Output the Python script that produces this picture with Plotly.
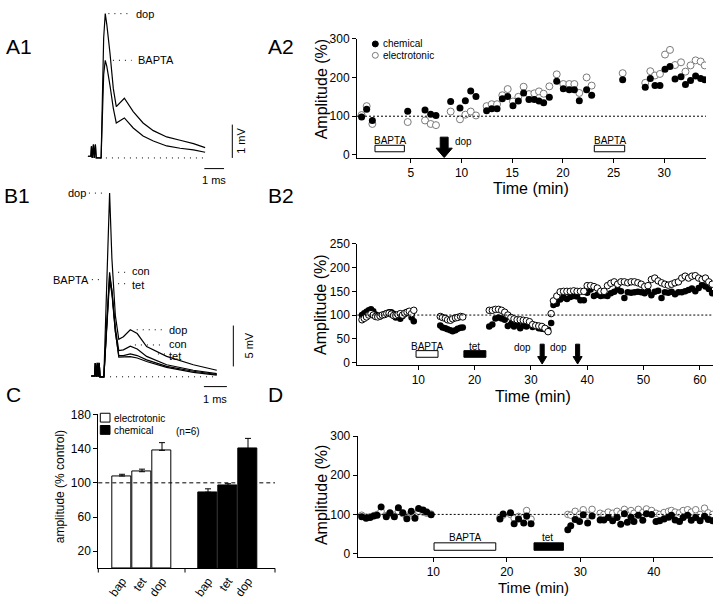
import plotly.graph_objects as go

W, H = 720, 604

# ---------------- A1 : averaged traces (ms, mV) ----------------
a1_time = [-0.7, -0.55, -0.52, -0.48, -0.42, -0.38, -0.32, -0.28, -0.03, 0.1, 0.18, 0.26, 0.42, 0.59,
           0.74, 0.93, 1.15, 1.6, 2.1, 2.62, 3.3, 3.98, 4.66, 5.25]
a1_dop = [0.05, 0.05, 0.35, 0.0, 0.4, 0.0, 0.4, 0.0, 0.0, 3.6, 4.33, 4.0, 3.15, 2.08,
          1.54, 1.67, 1.79, 1.39, 1.05, 0.82, 0.63, 0.53, 0.43, 0.31]
a1_bapta = [0.05, 0.05, 0.35, 0.0, 0.4, 0.0, 0.4, 0.0, 0.0, 2.5, 2.93, 2.75, 2.18, 1.49,
            1.05, 1.12, 1.2, 0.9, 0.66, 0.51, 0.36, 0.29, 0.24, 0.17]

# ---------------- B1 : averaged traces (ms, mV) ----------------
b1_time = [-0.6, -0.45, -0.42, -0.38, -0.33, -0.3, -0.25, -0.22, -0.05, 0.1, 0.2, 0.3, 0.45, 0.6,
           0.8, 1.1, 1.4, 1.81, 2.68, 3.84, 4.86]
b1_dop = [0.1, 0.1, 1.7, 0.0, 1.7, 0.0, 1.7, 0.0, 0.0, 12.0, 22.5, 14.5, 7.5, 4.6,
          4.9, 5.76, 5.3, 3.7, 2.5, 1.48, 0.8]
b1_con = [0.1, 0.1, 1.7, 0.0, 1.7, 0.0, 1.7, 0.0, 0.0, 8.0, 12.8, 10.5, 6.0, 3.2,
          3.3, 3.76, 3.4, 2.5, 1.48, 0.8, 0.4]
b1_tet = [0.1, 0.1, 1.7, 0.0, 1.7, 0.0, 1.7, 0.0, 0.0, 7.5, 11.8, 10.2, 5.5, 2.6,
          2.6, 2.8, 2.6, 2.08, 1.27, 0.68, 0.28]
b1_bapta = [0.1, 0.1, 1.7, 0.0, 1.7, 0.0, 1.7, 0.0, 0.0, 8.0, 12.4, 10.6, 5.6, 2.4,
            2.4, 2.47, 2.3, 1.87, 1.15, 0.55, 0.2]

# ---------------- A2 : amplitude vs time ----------------
a2_time = [0.13, 0.63, 1.19, 4.68, 6.39, 6.95, 7.47, 8.92, 9.84, 10.37, 10.9, 11.42, 12.47, 12.97,
           13.5, 14.02, 14.55, 15.07, 15.6, 16.12, 16.65, 17.18, 17.64, 18.1, 18.66, 19.39, 20.04,
           20.63, 21.13, 21.62, 22.34, 22.84, 25.9, 28.13, 28.63, 29.09, 29.58, 30.08, 30.57, 31.07,
           31.66, 32.1, 32.6, 33.1, 33.6, 34.0]
a2_chemical = [98, 118, 89, 113, 116, 105, 102, 138, 121, 140, 165, 151, 114, 119,
               119, 145, 151, 127, 139, 160, 143, 143, 139, 135, 149, 190, 171,
               168, 168, 140, 168, 154, 194, 175, 197, 179, 179, 221, 228, 196,
               202, 182, 192, 204, 197, 194]
a2_electrotonic = [103, 126, 80, 85, 89, 80, 77, 112, 92, 104, 112, 102, 126, 131,
                   131, 154, 170, 138, 150, 176, 157, 159, 164, 158, 177, 208, 183,
                   183, 183, 160, 200, 179, 211, 186, 216, 205, 209, 259, 271, 232,
                   239, 215, 231, 244, 241, 231]

# ---------------- B2 ----------------
b2_time_ctrl = [0.0, 0.4, 0.8, 1.2, 1.6, 2.0, 2.4, 2.8, 3.2, 3.6, 4.0, 4.4, 4.8, 5.2, 5.6, 6.0,
                6.4, 6.8, 7.2, 7.6, 8.0, 8.4, 8.8, 9.2]
b2_chem_ctrl = [100, 104, 107, 110, 112, 108, 101, 99, 97, 100, 102, 104, 106, 106, 103, 95,
                97, 92, 98, 102, 105, 107, 95, 87]
b2_elec_ctrl = [90, 93, 96, 100, 103, 100, 97, 96, 98, 100, 101, 103, 104, 102, 99, 99,
                101, 103, 100, 104, 106, 108, 103, 110]
b2_time_bapta = [13.9, 14.3, 14.8, 15.2, 15.7, 16.1, 16.6, 17.0, 17.5, 17.9]
b2_chem_bapta = [78, 74, 72, 70, 68, 66, 68, 71, 73, 74]
b2_elec_bapta = [97, 95, 93, 90, 89, 92, 94, 95, 97, 96]
b2_time_tet = [22.6, 23.15, 23.7, 24.25, 24.8, 25.35, 25.9, 26.45, 27.0, 27.55, 28.1, 28.65,
               29.2, 29.75, 30.3, 30.85, 31.4, 31.95, 32.5, 33.05, 33.6]
b2_chem_tet = [76, 80, 93, 95, 93, 90, 77, 81, 76, 80, 72, 78, 76, 80, 75, 77, 72, 71, 70, 69, 83]
b2_elec_tet = [110, 110, 112, 112, 110, 106, 100, 95, 92, 90, 90, 89, 88, 86, 80, 78, 77, 76,
               72, 65, 103]
b2_time_dop = [34.0, 34.6, 35.2, 35.8, 36.4, 37.0, 37.6, 38.2, 38.8, 39.4, 40.0, 40.6, 41.2, 41.8,
               42.4, 43.0, 43.6, 44.2, 44.8, 45.4, 46.0, 46.6, 47.2, 47.8, 48.4, 49.0, 49.6, 50.2,
               50.8, 51.4, 52.0, 52.6, 53.2, 53.8, 54.4, 55.0, 55.6, 56.2, 56.8, 57.4, 58.0, 58.6,
               59.2, 59.8, 60.4, 61.0, 61.6, 62.2]
b2_chem_dop = [121, 124, 133, 137, 134, 138, 140, 139, 131, 131, 147, 154, 140, 143,
               140, 141, 140, 146, 149, 154, 150, 136, 148, 147, 148, 149, 148, 146,
               150, 142, 149, 151, 136, 148, 147, 149, 144, 148, 148, 150, 153, 156,
               150, 157, 164, 160, 155, 146]
b2_elec_dop = [130, 140, 149, 150, 150, 150, 151, 150, 150, 150, 162, 162, 160, 157,
               150, 150, 162, 167, 170, 165, 170, 170, 168, 170, 170, 168, 165, 160,
               162, 175, 178, 172, 168, 165, 163, 165, 168, 170, 178, 182, 178, 182,
               183, 178, 175, 178, 170, 165]

# ---------------- D ----------------
d_time_ctrl = [0.26, 0.86, 1.4, 1.9, 2.35, 2.9, 3.6, 4.1, 4.7, 5.25, 5.85, 6.4, 7.0, 7.5, 8.0,
               8.6, 9.1, 9.7]
d_chem_ctrl = [94, 90, 92, 96, 98, 119, 94, 104, 94, 117, 104, 89, 108, 90, 115, 111, 106, 99]
d_elec_ctrl = [98, 93, 94, 97, 100, 108, 97, 102, 98, 108, 102, 95, 104, 96, 108, 106, 103, 101]
d_time_bapta = [19.07, 19.5, 20.5, 21.0, 21.6, 22.3, 22.7, 23.3]
d_chem_bapta = [88, 101, 104, 76, 88, 78, 96, 76]
d_elec_bapta = [92, 98, 100, 90, 95, 92, 110, 88]
d_time_tet = [28.3, 28.7, 29.3, 29.9, 30.4, 31.0, 31.6, 32.7, 33.2, 33.8, 34.4, 35.0, 35.5, 36.0,
              36.4, 36.9, 37.3, 37.9, 38.5, 39.0, 39.7, 40.3, 40.8, 41.4, 42.0, 42.4, 42.9, 43.5,
              44.0, 44.6, 45.1, 45.7, 46.3, 46.9, 47.4, 48.0]
d_chem_tet = [61, 71, 87, 82, 99, 78, 96, 86, 86, 92, 84, 92, 75, 102, 80, 93, 82, 98, 85, 102,
              100, 82, 84, 88, 93, 98, 86, 82, 92, 98, 85, 92, 84, 95, 87, 84]
d_elec_tet = [100, 98, 108, 100, 112, 98, 113, 103, 100, 106, 103, 108, 102, 113, 104, 110, 103,
              113, 105, 114, 110, 103, 100, 105, 108, 110, 106, 104, 110, 112, 106, 112, 100,
              116, 104, 100]

# ---------------- C : bar chart ----------------
c_drugs = ["bap", "tet", "dop"]
c_pos_elec = [1, 2, 3]
c_pos_chem = [5.3, 6.3, 7.3]
c_electrotonic = [108, 113, 138]
c_electrotonic_err = [2, 3, 9]
c_chemical = [89, 97, 140]
c_chemical_err = [4, 2, 12]

# ================= helpers =================
def P(x):
    return x / W

def Q(y):
    return 1 - y / H

def xaxis_px(left, right, ref_px, ref_val, scale):
    return dict(domain=[P(left), P(right)],
                range=[ref_val + (left - ref_px) / scale, ref_val + (right - ref_px) / scale])

def yaxis_px(top, bottom, ref_px, ref_val, scale):
    return dict(domain=[Q(bottom), Q(top)],
                range=[ref_val + (ref_px - bottom) / scale, ref_val + (ref_px - top) / scale])

FONT = "Liberation Sans, Arial, Helvetica, sans-serif"
axis_style = dict(showline=True, linecolor="black", linewidth=1, ticks="outside", ticklen=4,
                  tickwidth=1, tickcolor="black", showgrid=False, zeroline=False,
                  tickfont=dict(size=12, color="black", family=FONT), fixedrange=True)
hidden = dict(visible=False, showgrid=False, zeroline=False, fixedrange=True)

fig = go.Figure()
ann = []
shapes = []

def text(t, x, y, xref="paper", yref="paper", size=11, xa="center", ya="middle", angle=0):
    ann.append(dict(text=t, x=x, y=y, xref=xref, yref=yref, showarrow=False,
                    font=dict(size=size, color="black", family=FONT),
                    xanchor=xa, yanchor=ya, textangle=angle, borderpad=0))

def line(x0, y0, x1, y1, xref, yref, dash="solid", width=1):
    shapes.append(dict(type="line", x0=x0, y0=y0, x1=x1, y1=y1, xref=xref, yref=yref,
                       line=dict(color="black", width=width, dash=dash)))

def rect(x0, y0, x1, y1, xref, yref, fill):
    shapes.append(dict(type="rect", x0=x0, y0=y0, x1=x1, y1=y1, xref=xref, yref=yref,
                       fillcolor=fill, line=dict(color="black", width=1)))

def arrow(xc, top, neck, tip, shaft_hw, head_hw, xref, yref):
    path = (f"M {xc - shaft_hw},{top} L {xc + shaft_hw},{top} L {xc + shaft_hw},{neck} "
            f"L {xc + head_hw},{neck} L {xc},{tip} L {xc - head_hw},{neck} "
            f"L {xc - shaft_hw},{neck} Z")
    shapes.append(dict(type="path", path=path, xref=xref, yref=yref, fillcolor="black",
                       line=dict(color="black", width=1)))

DOTS = "1px,5px"
FINE = "2px,2px"

# ================= A1 =================
for v in (a1_dop, a1_bapta):
    fig.add_trace(go.Scatter(x=a1_time, y=v, mode="lines", line=dict(color="black", width=1.2),
                             xaxis="x", yaxis="y", showlegend=False, hoverinfo="skip"))
line(0.34, 4.33, 1.52, 4.33, "x", "y", DOTS)
text("dop", 1.69, 4.33, "x", "y", 11, "left")
line(0.57, 2.93, 1.52, 2.93, "x", "y", DOTS)
text("BAPTA", 1.79, 2.93, "x", "y", 11, "left")
line(-0.09, 0, 5.24, 0, "x", "y", DOTS)
line(6.63, 0, 6.63, 1, "x", "y")
line(5.21, -0.32, 6.21, -0.32, "x", "y")
text("1 ms", 5.71, -0.67, "x", "y", 11)
text("1 mV", 7.1, 0.5, "x", "y", 11, angle=-90)

# ================= B1 =================
for v in (b1_dop, b1_con, b1_tet, b1_bapta):
    fig.add_trace(go.Scatter(x=b1_time, y=v, mode="lines", line=dict(color="black", width=1.2),
                             xaxis="x3", yaxis="y3", showlegend=False, hoverinfo="skip"))
line(-0.7, 22.5, 0.04, 22.5, "x3", "y3", DOTS)
text("dop", -0.78, 22.5, "x3", "y3", 11, "right")
line(-0.57, 11.9, -0.22, 11.9, "x3", "y3", DOTS)
text("BAPTA", -0.65, 11.9, "x3", "y3", 11, "right")
line(0.57, 12.8, 1.0, 12.8, "x3", "y3", DOTS)
text("con", 1.13, 12.9, "x3", "y3", 11, "left")
line(0.57, 11.4, 1.0, 11.4, "x3", "y3", DOTS)
text("tet", 1.13, 11.3, "x3", "y3", 11, "left")
line(1.38, 5.76, 2.6, 5.76, "x3", "y3", DOTS)
text("dop", 2.74, 5.76, "x3", "y3", 11, "left")
line(1.3, 3.9, 2.6, 3.9, "x3", "y3", DOTS)
text("con", 2.74, 4.0, "x3", "y3", 11, "left")
line(2.3, 2.8, 2.65, 2.8, "x3", "y3", DOTS)
text("tet", 2.74, 2.6, "x3", "y3", 11, "left")
line(0.22, 0, 4.78, 0, "x3", "y3", DOTS)
line(5.58, 1.27, 5.58, 6.28, "x3", "y3")
line(4.3, -1.2, 5.3, -1.2, "x3", "y3")
text("1 ms", 4.8, -2.72, "x3", "y3", 11)
text("5 mV", 6.25, 3.8, "x3", "y3", 11, angle=-90)

# ================= A2 =================
fig.add_trace(go.Scatter(x=a2_time, y=a2_electrotonic, mode="markers", xaxis="x2", yaxis="y2",
                         marker=dict(symbol="circle", size=7, color="white",
                                     line=dict(color="#7a7a7a", width=1)),
                         showlegend=False, hoverinfo="skip"))
fig.add_trace(go.Scatter(x=a2_time, y=a2_chemical, mode="markers", xaxis="x2", yaxis="y2",
                         marker=dict(symbol="circle", size=7, color="black"),
                         showlegend=False, hoverinfo="skip"))
line(0, 100, 1, 100, "x2 domain", "y2", FINE)
rect(1.45, 8.3, 4.35, 25, "x2", "y2", "white")
text("BAPTA", 2.9, 37.5, "x2", "y2", 10)
rect(23.1, 8.3, 26.1, 25, "x2", "y2", "white")
text("BAPTA", 24.6, 37.5, "x2", "y2", 10)
arrow(8.28, 46, 17.6, -6.8, 0.39, 0.8, "x2", "y2")
text("dop", 9.25, 36, "x2", "y2", 10, "left")
shapes.append(dict(type="circle", xref="paper", yref="paper", x0=P(372.3), x1=P(378.3),
                   y0=Q(40.7), y1=Q(34.7), fillcolor="black", line=dict(color="black", width=1)))
shapes.append(dict(type="circle", xref="paper", yref="paper", x0=P(372.3), x1=P(378.3),
                   y0=Q(52.3), y1=Q(46.3), fillcolor="white", line=dict(color="#7a7a7a", width=1)))
text("chemical", P(382), Q(37.7), size=10, xa="left")
text("electrotonic", P(382), Q(49.3), size=10, xa="left")
text("Amplitude (%)", P(321), Q(84), size=16, angle=-90)
text("Time (min)", P(531), Q(185), size=16)

# ================= B2 =================
b2_time = b2_time_ctrl + b2_time_bapta + b2_time_tet + b2_time_dop
b2_chem = b2_chem_ctrl + b2_chem_bapta + b2_chem_tet + b2_chem_dop
b2_elec = b2_elec_ctrl + b2_elec_bapta + b2_elec_tet + b2_elec_dop
fig.add_trace(go.Scatter(x=b2_time, y=b2_chem, mode="markers", xaxis="x4", yaxis="y4",
                         marker=dict(symbol="circle", size=6.5, color="black"),
                         showlegend=False, hoverinfo="skip"))
fig.add_trace(go.Scatter(x=b2_time, y=b2_elec, mode="markers", xaxis="x4", yaxis="y4",
                         marker=dict(symbol="circle", size=6.5, color="white",
                                     line=dict(color="black", width=1)),
                         showlegend=False, hoverinfo="skip"))
line(0, 100, 1, 100, "x4 domain", "y4", FINE)
rect(9.6, 11, 13.5, 25, "x4", "y4", "white")
text("BAPTA", 11.55, 33, "x4", "y4", 10)
rect(18.1, 11, 22.0, 25, "x4", "y4", "black")
text("tet", 20.05, 33, "x4", "y4", 10)
arrow(32.0, 38.6, 12.4, -3.3, 0.36, 0.8, "x4", "y4")
arrow(38.3, 38.6, 12.4, -3.3, 0.36, 0.8, "x4", "y4")
text("dop", 28.5, 31, "x4", "y4", 10)
text("dop", 34.9, 31, "x4", "y4", 10)
text("Amplitude (%)", P(321), Q(304), size=16, angle=-90)
text("Time (min)", P(533), Q(397), size=16)

# ================= D =================
d_time = d_time_ctrl + d_time_bapta + d_time_tet
d_chem = d_chem_ctrl + d_chem_bapta + d_chem_tet
d_elec = d_elec_ctrl + d_elec_bapta + d_elec_tet
fig.add_trace(go.Scatter(x=d_time, y=d_elec, mode="markers", xaxis="x6", yaxis="y6",
                         marker=dict(symbol="circle", size=6.5, color="white",
                                     line=dict(color="#7a7a7a", width=1)),
                         showlegend=False, hoverinfo="skip"))
fig.add_trace(go.Scatter(x=d_time, y=d_chem, mode="markers", xaxis="x6", yaxis="y6",
                         marker=dict(symbol="circle", size=7, color="black"),
                         showlegend=False, hoverinfo="skip"))
line(0, 100, 1, 100, "x6 domain", "y6", FINE)
rect(10.1, 8.5, 18.5, 27.5, "x6", "y6", "white")
text("BAPTA", 14.3, 40, "x6", "y6", 10)
rect(23.7, 8.5, 27.7, 27.5, "x6", "y6", "black")
text("tet", 25.6, 40, "x6", "y6", 10)
text("Amplitude (%)", P(321), Q(498), size=16, angle=-90)
text("Time (min)", P(533), Q(592), size=15)

# ================= C =================
fig.add_trace(go.Bar(x=c_pos_elec, y=c_electrotonic, width=0.95, xaxis="x5", yaxis="y5",
                     marker=dict(color="white", line=dict(color="black", width=1)),
                     error_y=dict(type="data", array=c_electrotonic_err, arrayminus=[0, 0, 0],
                                  symmetric=False, color="black", thickness=1, width=3),
                     showlegend=False, hoverinfo="skip"))
fig.add_trace(go.Bar(x=c_pos_chem, y=c_chemical, width=0.95, xaxis="x5", yaxis="y5",
                     marker=dict(color="black", line=dict(color="black", width=1)),
                     error_y=dict(type="data", array=c_chemical_err, arrayminus=[0, 0, 0],
                                  symmetric=False, color="black", thickness=1, width=3),
                     showlegend=False, hoverinfo="skip"))
line(0, 100, 1, 100, "x5 domain", "y5", "4px,3px")
for xp in (185, 275):
    line(P(xp), Q(572.7), P(xp), Q(577), "paper", "paper")
line(P(98.3), Q(572.7), P(98.3), Q(577), "paper", "paper")
rect(P(100.3), Q(423.5), P(110), Q(414.5), "paper", "paper", "white")
rect(P(100.3), Q(436), P(110), Q(427), "paper", "paper", "black")
text("electrotonic", P(113), Q(419.5), size=10, xa="left")
text("chemical", P(113), Q(432), size=10, xa="left")
text("(n=6)", P(188), Q(433), size=10)
text("amplitude (% control)", P(60), Q(490), size=12, angle=-90)

# ================= panel labels =================
for lab, x, y in (("A1", 5, 40), ("A2", 267, 40), ("B1", 3, 192), ("B2", 267, 192),
                  ("C", 5, 395), ("D", 267, 395)):
    text(lab, P(x), Q(y), size=21, xa="left")

layout = dict(
    width=W, height=H, margin=dict(l=0, r=0, t=0, b=0),
    paper_bgcolor="white", plot_bgcolor="rgba(0,0,0,0)",
    font=dict(family=FONT, color="black"),
    showlegend=False, bargap=0,
    xaxis=dict(**hidden, anchor="y", **xaxis_px(85, 250, 101.7, 0, 19.7)),
    yaxis=dict(**hidden, anchor="x", **yaxis_px(0, 185, 154, 0, 34)),
    xaxis3=dict(**hidden, anchor="y3", **xaxis_px(50, 260, 105, 0, 23)),
    yaxis3=dict(**hidden, anchor="x3", **yaxis_px(180, 410, 377.3, 0, 8.33)),
    xaxis2=dict(**axis_style, anchor="y2", tickvals=[5, 10, 15, 20, 25, 30],
                **xaxis_px(357, 706, 360.3, 0, 10.13)),
    yaxis2=dict(**axis_style, anchor="x2", tickvals=[0, 100, 200, 300],
                **yaxis_px(32.3, 153.7, 151, 0, 0.3957)),
    xaxis4=dict(**axis_style, anchor="y4", tickvals=[10, 20, 30, 40, 50, 60],
                **xaxis_px(357.3, 713, 362, 0, 5.63)),
    yaxis4=dict(**axis_style, anchor="x4", tickvals=[0, 50, 100, 150, 200, 250],
                **yaxis_px(241.7, 365, 362.7, 0, 0.484)),
    xaxis6=dict(**axis_style, anchor="y6", tickvals=[10, 20, 30, 40],
                **xaxis_px(357.7, 713, 359.8, 0, 7.35)),
    yaxis6=dict(**axis_style, anchor="x6", tickvals=[0, 100, 200, 300],
                **yaxis_px(437.7, 561, 557.7, 0, 0.4)),
    xaxis5=dict(**{k: v for k, v in axis_style.items() if k != "ticks"}, ticks="",
                anchor="y5", tickvals=c_pos_elec + c_pos_chem, ticktext=c_drugs + c_drugs,
                tickangle=-55, **xaxis_px(98.3, 275, 102, 0, 20)),
    yaxis5=dict(**axis_style, anchor="x5", tickvals=[20, 60, 100, 140, 180],
                domain=[Q(572.7), Q(415.7)], range=[0, 180]),
    annotations=ann, shapes=shapes,
)
fig.update_layout(**layout)
fig.write_html("out.html", config={"displayModeBar": False},
               post_script="document.body.style.margin='0px';document.body.style.overflow='hidden';")
